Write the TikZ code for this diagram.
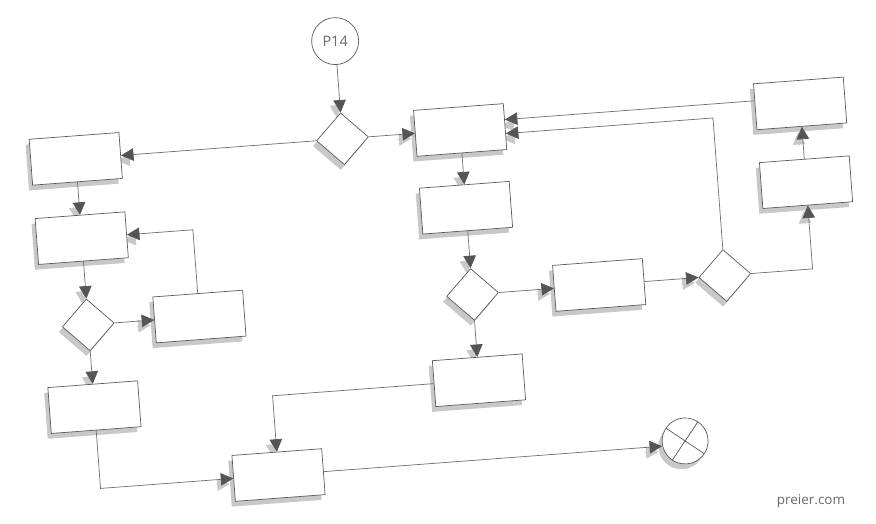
\documentclass[tikz,border=0pt]{standalone}
\usepackage{fontspec}
\setmainfont{Open Sans}
\usetikzlibrary{arrows.meta,shapes.geometric,shadows,backgrounds}
\definecolor{linec}{HTML}{6E6E6E}
\definecolor{edgec}{HTML}{5A5A5A}
\definecolor{tipc}{HTML}{555555}
\definecolor{shc}{HTML}{C8C8C8}
\definecolor{txtc}{HTML}{6A6A6A}
\begin{document}
\begin{tikzpicture}[x=1pt,y=1pt,
  shad/.style={drop shadow={shadow xshift=-4pt,shadow yshift=-5pt,opacity=1,fill=shc}},
  box/.style={draw=edgec,fill=white,line width=0.7pt,minimum width=90pt,minimum height=46pt,inner sep=0pt,shad},
  dia/.style={diamond,draw=edgec,fill=white,line width=0.7pt,minimum width=52pt,minimum height=52pt,inner sep=0pt,shad},
  term/.style={circle,draw=edgec,fill=white,line width=0.7pt,minimum size=47pt,inner sep=0pt,text=txtc,font=\fontsize{14.5}{17}\selectfont},
  endc/.style={circle,draw=edgec,fill=white,line width=0.7pt,minimum size=46pt,inner sep=0pt,shad},
  conn/.style={draw=linec,line width=0.7pt,-{Triangle[length=12.5pt,width=12.5pt,color=tipc,fill=tipc]}},
  tipsh/.style={draw=shc,line width=0.7pt,-{Triangle[length=12.5pt,width=12.5pt,color=shc,fill=shc]},transform canvas={shift={(-4pt,-5pt)}}},
  rot/.style={transform canvas={rotate around={4.3:(438,262)}}}
]
\useasboundingbox (0,0) rectangle (876,524);
\begin{scope}[rot]
\node[term,rotate=-4.3] (P14) at (352,490) {P14};
\node[dia] (D1) at (352,392) {};
\node[box] (B1) at (470,392) {};
\node[box] (B2) at (470,314) {};
\node[dia] (D2) at (470,227) {};
\node[box] (B3) at (597,227) {};
\node[dia] (D3) at (723,227) {};
\node[box] (B4) at (811,314) {};
\node[box] (B5) at (811,393) {};
\node[box] (L1) at (84.5,392) {};
\node[box] (L2) at (84.5,312.5) {};
\node[dia] (LD) at (84.5,225.5) {};
\node[box] (L3) at (196,225.5) {};
\node[box] (L4) at (84.5,143) {};
\node[box] (B6) at (263,61.5) {};
\node[box] (B7) at (470,141) {};
\node[endc] (E) at (671,65) {};
\draw[edgec,line width=0.7pt] (E.142) -- (E.-38) (E.52) -- (E.232);
\draw[conn] (P14) -- (D1);
\draw[conn] (D1) -- (L1);
\draw[conn] (D1) -- (B1);
\draw[conn] (B1) -- (B2);
\draw[conn] (B2) -- (D2);
\draw[conn] (D2) -- (B3);
\draw[conn] (D2) -- (B7);
\draw[conn] (B3) -- (D3);
\draw[conn] (D3.east) -| (B4.south);
\draw[conn] (B4) -- (B5);
\draw[conn] ([yshift=6]B5.west) -- ([yshift=6]B5.west -| B1.east);
\draw[conn] (D3.north) |- ([yshift=-7]B1.east);
\draw[conn] (L1) -- (L2);
\draw[conn] (L2) -- (LD);
\draw[conn] (LD) -- (L3);
\draw[conn] (L3.north) |- (L2.east);
\draw[conn] (LD) -- (L4);
\draw[conn] (L4.south) |- (B6.west);
\draw[conn] (B7.west) -| (B6.north);
\draw[conn] (B6.east) -- (B6.east -| E.west);
\end{scope}
\begin{pgfonlayer}{background}
\fill[white] (0,0) rectangle (876,524);
\begin{scope}[rot]
\draw[tipsh] ([yshift=14]D1.north) -- (D1.north);
\draw[tipsh] ([xshift=14]L1.east) -- (L1.east);
\draw[tipsh] ([xshift=-14]B1.west) -- (B1.west);
\draw[tipsh] ([yshift=14]B2.north) -- (B2.north);
\draw[tipsh] ([yshift=14]D2.north) -- (D2.north);
\draw[tipsh] ([xshift=-14]B3.west) -- (B3.west);
\draw[tipsh] ([yshift=14]B7.north) -- (B7.north);
\draw[tipsh] ([xshift=-14]D3.west) -- (D3.west);
\draw[tipsh] ([yshift=-14]B4.south) -- (B4.south);
\draw[tipsh] ([yshift=-14]B5.south) -- (B5.south);
\draw[tipsh] ([xshift=14,yshift=6]B1.east) -- ([yshift=6]B1.east);
\draw[tipsh] ([xshift=14,yshift=-7]B1.east) -- ([yshift=-7]B1.east);
\draw[tipsh] ([yshift=14]L2.north) -- (L2.north);
\draw[tipsh] ([yshift=14]LD.north) -- (LD.north);
\draw[tipsh] ([xshift=-14]L3.west) -- (L3.west);
\draw[tipsh] ([xshift=14]L2.east) -- (L2.east);
\draw[tipsh] ([yshift=14]L4.north) -- (L4.north);
\draw[tipsh] ([xshift=-14]B6.west) -- (B6.west);
\draw[tipsh] ([yshift=14]B6.north) -- (B6.north);
\draw[tipsh] ([xshift=-14]B6.east -| E.west) -- (B6.east -| E.west);
\end{scope}
\end{pgfonlayer}
\node[text=txtc,font=\fontsize{13.5}{16}\selectfont] (wm) at (811,23) {preier.com};
\end{tikzpicture}
\end{document}
